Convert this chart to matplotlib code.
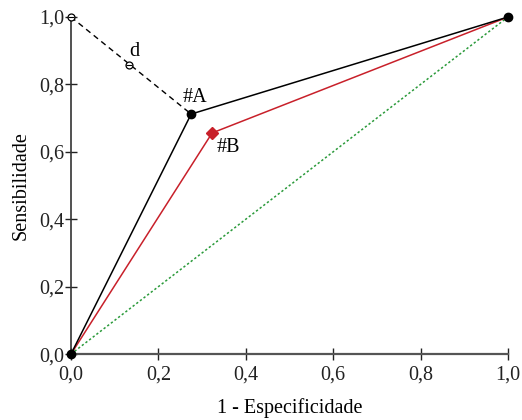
import matplotlib
matplotlib.use("Agg")
import matplotlib.pyplot as plt

# ROC points (1 - especificidade, sensibilidade)
curve_a_x = [0.0, 0.275, 1.0]
curve_a_y = [0.0, 0.712, 1.0]
curve_b_x = [0.0, 0.323, 1.0]
curve_b_y = [0.0, 0.656, 1.0]
dist_x = [0.0, 0.275]
dist_y = [1.0, 0.712]
d_point = (0.133, 0.858)
ticks = [0.0, 0.2, 0.4, 0.6, 0.8, 1.0]
tick_labels = ["0,0", "0,2", "0,4", "0,6", "0,8", "1,0"]

plt.rcParams['font.family'] = ['Liberation Serif', 'DejaVu Serif']
fs = 14.5

fig = plt.figure(figsize=(5.22, 4.2), dpi=100)
ax = fig.add_axes([0.136, 0.157, 0.837, 0.8025])

# diagonal de referencia
ax.plot([0, 1], [0, 1], linestyle=(0, (1.5, 1.5)), color="#2a9a3a", linewidth=1.1, clip_on=False)
# linha tracejada ate o ponto ideal
ax.plot(dist_x, dist_y, linestyle=(0, (4, 3)), color="black", linewidth=1.0, clip_on=False)
ax.plot(curve_b_x, curve_b_y, color="#c8202a", linewidth=1.1, clip_on=False)
ax.plot(curve_a_x, curve_a_y, color="black", linewidth=1.1, clip_on=False)

ax.plot(curve_a_x, curve_a_y, linestyle="none", marker="o", markersize=6, color="black", clip_on=False, zorder=5)
ax.plot([curve_b_x[1]], [curve_b_y[1]], linestyle="none", marker="D", markersize=6, color="#c8202a", clip_on=False, zorder=5)
ax.plot([dist_x[0], d_point[0]], [dist_y[0], d_point[1]], linestyle="none", marker="o", markersize=5,
        markerfacecolor="white", markeredgecolor="black", markeredgewidth=0.9, clip_on=False, zorder=5)
ax.plot([dist_x[0], d_point[0]], [dist_y[0], d_point[1]], linestyle="none", marker="_", markersize=5,
        color="black", markeredgewidth=0.8, clip_on=False, zorder=6)

ax.text(curve_a_x[1] - 0.02, curve_a_y[1] + 0.022, "#A", fontsize=fs, ha="left", va="bottom")
ax.text(curve_b_x[1] + 0.01, curve_b_y[1] - 0.015, "#B", fontsize=fs, ha="left", va="top")
ax.text(d_point[0] + 0.0, d_point[1] + 0.012, "d", fontsize=fs, ha="left", va="bottom")

ax.set_xlim(0, 1)
ax.set_ylim(0, 1)
ax.set_xticks(ticks)
ax.set_xticklabels(tick_labels)
ax.set_yticks(ticks)
ax.set_yticklabels(tick_labels)
ax.tick_params(direction="inout", length=8, width=1.0, labelsize=fs, pad=1, colors="#222222")
ax.tick_params(axis="x", pad=4)
ax.spines["top"].set_visible(False)
ax.spines["right"].set_visible(False)
ax.spines["left"].set_color("#333333")
ax.spines["bottom"].set_color("#555555")
ax.spines["left"].set_linewidth(1.2)
ax.spines["bottom"].set_linewidth(1.6)

ax.set_xlabel("1 - Especificidade", fontsize=fs, labelpad=10)
ax.set_ylabel("Sensibilidade", fontsize=fs, labelpad=6)

fig.savefig("out.png", dpi=100)
